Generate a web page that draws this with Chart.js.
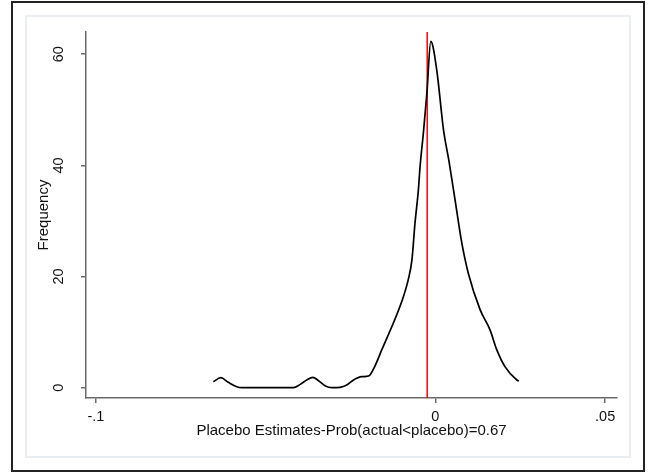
<!DOCTYPE html>
<html>
  <head>
    <meta charset="UTF-8" />
    <title>Placebo Estimates</title>
    <style>
      html, body { margin: 0; padding: 0; background: #fff; }
      #chart { display: block; }
    </style>
  </head>
  <body>
    <canvas id="chart" width="649" height="472"></canvas>
    <script src="https://cdn.jsdelivr.net/npm/chart.js"></script>
    <script>
      // kernel density of the placebo estimates
      const estX = [
        -0.0654, -0.0632, -0.0610, -0.0585, -0.0570, -0.0540, -0.0500, -0.0460,
        -0.0418, -0.0398, -0.0379, -0.0361, -0.0344, -0.0325, -0.0305, -0.0281,
        -0.0261, -0.0241, -0.0217, -0.0197, -0.0178, -0.0158, -0.0124, -0.0099,
        -0.0080, -0.0069, -0.0060, -0.0050, -0.0045, -0.0035, -0.0025, -0.00135,
        0.0004, 0.0024, 0.0040, 0.0058, 0.0078, 0.0097, 0.0132, 0.0161,
        0.0181, 0.0205, 0.0240, 0.0246
      ];
      const freqY = [
        1.08, 1.8, 0.97, 0.18, 0, 0, 0, 0,
        0, 0.6, 1.39, 1.87, 1.26, 0.36, 0, 0.07,
        0.49, 1.39, 1.98, 2.1, 3.9, 6.8, 11.6, 15.5,
        19.4, 23.0, 29.6, 35.6, 39.8, 46.0, 53.0, 62.3,
        57.2, 46.4, 40.8, 33.8, 26.0, 20.6, 14.0, 10.4,
        6.8, 3.8, 1.39, 1.2
      ];
      // actual estimate (red reference line)
      const actualEstimate = -0.0024;

      const xTicks = [-0.1, 0, 0.05];
      const xTickLabels = ['-.1', '0', '.05'];
      const yTicks = [0, 20, 40, 60];
      const xMin = -0.1029, xMax = 0.0535;
      const yMin = -1.85, yMax = 64;

      const fontFamily = "'Liberation Sans', Arial, sans-serif";
      const axisColor = '#6a6a6a';

      // stata-ish frame: dark outer box + pale inner panel
      const framePlugin = {
        id: 'frame',
        beforeDraw(chart) {
          const c = chart.ctx;
          c.save();
          c.fillStyle = '#fff';
          c.fillRect(0, 0, chart.width, chart.height);
          c.strokeStyle = '#e8eef1';
          c.lineWidth = 2;
          c.strokeRect(26, 16, 604, 441);
          c.strokeStyle = '#222';
          c.lineWidth = 2;
          c.strokeRect(12, 2, 632, 469);
          c.restore();
        }
      };

      const ctx = document.getElementById('chart').getContext('2d');
      const chart = new Chart(ctx, {
        type: 'line',
        data: {
          datasets: [
            {
              data: estX.map((x, i) => ({ x: x, y: freqY[i] })),
              borderColor: '#000',
              borderWidth: 1.7,
              pointRadius: 0,
              fill: false,
              cubicInterpolationMode: 'monotone',
            },
            {
              data: [{ x: actualEstimate, y: yMin }, { x: actualEstimate, y: yMax }],
              borderColor: '#ff0000',
              borderWidth: 1.5,
              pointRadius: 0,
              fill: false,
            },
          ],
        },
        options: {
          responsive: false,
          animation: false,
          devicePixelRatio: 1,
          layout: { padding: { left: 0, right: 32, top: 32, bottom: 0 } },
          plugins: {
            legend: { display: false },
            tooltip: { enabled: false },
          },
          scales: {
            x: {
              type: 'linear',
              min: xMin,
              max: xMax,
              afterBuildTicks: (s) => { s.ticks = xTicks.map(v => ({ value: v })); },
              afterFit: (s) => { s.height = 74; },
              grid: { drawOnChartArea: false, drawTicks: true, tickLength: 5, color: axisColor, lineWidth: 1.5 },
              border: { display: true, color: axisColor, width: 1.5 },
              ticks: {
                autoSkip: false,
                maxRotation: 0,
                padding: 5.5,
                color: '#111',
                font: { family: fontFamily, size: 14.5 },
                callback: (v) => xTickLabels[xTicks.indexOf(v)],
              },
              title: {
                display: true,
                text: 'Placebo Estimates-Prob(actual<placebo)=0.67',
                color: '#111',
                font: { family: fontFamily, size: 15 },
                padding: { top: 0, bottom: 32.5 },
              },
            },
            y: {
              type: 'linear',
              min: yMin,
              max: yMax,
              afterBuildTicks: (s) => { s.ticks = yTicks.map(v => ({ value: v })); },
              afterFit: (s) => { s.width = 86; },
              grid: { drawOnChartArea: false, drawTicks: true, tickLength: 5, color: axisColor, lineWidth: 1.5 },
              border: { display: true, color: axisColor, width: 1.5 },
              ticks: {
                autoSkip: false,
                minRotation: 90,
                maxRotation: 90,
                crossAlign: 'center',
                padding: 13.5,
                color: '#111',
                font: { family: fontFamily, size: 14.5 },
                callback: (v) => String(v),
              },
              title: {
                display: true,
                text: 'Frequency',
                color: '#111',
                font: { family: fontFamily, size: 15 },
                padding: { top: 34.5, bottom: 0 },
              },
            },
          },
        },
        plugins: [framePlugin],
      });
    </script>
  </body>
</html>
